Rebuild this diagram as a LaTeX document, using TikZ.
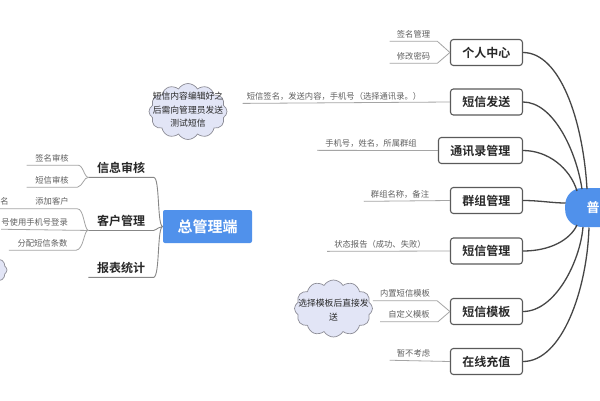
\documentclass[tikz,border=0pt]{standalone}
\usepackage{fontspec}
\setmainfont{Noto Sans CJK SC}[BoldFont={Noto Sans CJK SC Bold}]
\usetikzlibrary{shapes.symbols}
\definecolor{ublue}{RGB}{80,145,235}
\definecolor{boxgray}{RGB}{90,90,90}
\definecolor{conngray}{RGB}{70,70,70}
\definecolor{subgray}{RGB}{165,165,165}
\definecolor{lblgray}{RGB}{95,95,95}
\definecolor{lgray}{RGB}{135,135,135}
\definecolor{cloudfill}{RGB}{226,229,246}
\definecolor{cloudline}{RGB}{140,140,150}
\definecolor{darktext}{RGB}{40,40,40}
\tikzset{
  mbox/.style={draw=boxgray, line width=1.1pt, rounded corners=3pt, fill=white,
    font=\bfseries\fontsize{12}{14}\selectfont, text=darktext, inner xsep=12pt, minimum height=26pt},
  conn/.style={draw=conngray, line width=1.3pt},
  sub/.style={draw=subgray, line width=0.8pt},
  lbl/.style={font=\fontsize{8.3}{10}\selectfont, text=lblgray, inner xsep=7pt, inner ysep=3.2pt},
  lmain/.style={font=\bfseries\fontsize{12}{14}\selectfont, text=darktext, inner xsep=8.5pt, inner ysep=4pt},
  lline/.style={draw=lgray, line width=0.9pt},
  cloudsty/.style={cloud, cloud puffs=12, cloud puff arc=120, draw=cloudline, fill=cloudfill, line width=0.7pt, inner sep=0pt},
  ctext/.style={font=\fontsize{8.8}{13.5}\selectfont, text=darktext, align=center}
}
\begin{document}
\begin{tikzpicture}[x=1pt,y=-1pt]
\useasboundingbox[fill=white] (0,0) rectangle (600,400);

% ---------- right tree ----------
\node[fill=ublue, rounded corners=17pt, minimum width=90pt, minimum height=39pt, anchor=west, inner sep=0pt] (u) at (565,207.5) {};
\node[text=white, font=\bfseries\fontsize{13}{14}\selectfont, inner sep=0pt] (ut) at (593,208) {普};

\node[mbox,anchor=east] (p1) at (523,52.5) {个人中心};
\node[mbox,anchor=east] (p2) at (523,102) {短信发送};
\node[mbox,anchor=east] (p3) at (523,150.5) {通讯录管理};
\node[mbox,anchor=east] (p4) at (523,200.5) {群组管理};
\node[mbox,anchor=east] (p5) at (523,251) {短信管理};
\node[mbox,anchor=east] (p6) at (523,311.5) {短信模板};
\node[mbox,anchor=east] (p7) at (523,361.5) {在线充值};

\coordinate (u1) at (587,189);
\coordinate (u2) at (582,189);
\coordinate (u3) at (577,191);
\coordinate (u4) at (565.5,203);
\coordinate (u5) at (577,225);
\coordinate (u6) at (583,227);
\coordinate (u7) at (589,227.5);

\draw[conn] (p1.east) .. controls (560,52.5) and (583,120) .. (u1);
\draw[conn] (p2.east) .. controls (553,102) and (576,150) .. (u2);
\draw[conn] (p3.east) .. controls (548,150.5) and (570,168) .. (u3);
\draw[conn] (p4.east) .. controls (540,200.5) and (552,203) .. (u4);
\draw[conn] (p5.east) .. controls (550,251) and (570,240) .. (u5);
\draw[conn] (p6.east) .. controls (555,311.5) and (580,262) .. (u6);
\draw[conn] (p7.east) .. controls (562,361.5) and (587,290) .. (u7);

% right labels
\node[lbl] (s11) at (413.5,34) {签名管理};
\node[lbl] (s12) at (413.5,56) {修改密码};
\node[lbl, inner xsep=4pt] (s2) at (334,96) {短信签名，发送内容，手机号（选择通讯录。）};
\node[lbl, inner xsep=8pt] (s3) at (371,143) {手机号，姓名，所属群组};
\node[lbl] (s4) at (400,194) {群组名称，备注};
\node[lbl] (s5) at (380,244) {状态报告（成功、失败）};
\node[lbl] (s61) at (405,293.5) {内置短信模板};
\node[lbl, inner xsep=8pt] (s62) at (409,314.5) {自定义模板};
\node[lbl] (s7) at (413.5,353) {暂不考虑};

\draw[sub] (s11.south west) -- (s11.south east) -- (p1.west);
\draw[sub] (s12.south west) -- (s12.south east) -- (p1.west);
\draw[sub] (s2.south west) -- (p2.west);
\draw[sub] (s3.south west) -- (p3.west);
\draw[sub] (s4.south west) -- (p4.west);
\draw[sub] (s5.south west) -- (p5.west);
\draw[sub] (s61.south west) -- (s61.south east) -- (p6.west);
\draw[sub] (s62.south west) -- (s62.south east) -- (p6.west);
\draw[sub] (s7.south west) -- (p7.west);

% clouds
\node[cloudsty, minimum width=78pt, minimum height=56pt] (c1) at (188,111.5) {};
\node[ctext] (c1t) at (188,110) {短信内容编辑好之\\后需向管理员发送\\测试短信};
\node[cloudsty, minimum width=78pt, minimum height=57pt] (c2) at (333.5,308.5) {};
\node[ctext] (c2t) at (333.5,310) {选择模板后直接发\\送};
\node[cloudsty, minimum width=72pt, minimum height=38pt] (c3) at (-29,270) {};

% ---------- left tree ----------
\node[fill=ublue, rounded corners=2pt, minimum width=89pt, minimum height=33pt, inner sep=0pt,
  text=white, font=\bfseries\fontsize{15}{16}\selectfont] (z) at (207.5,226.5) {总管理端};

\node[lmain] (l1) at (121,167.5) {信息审核};
\node[lmain] (l2) at (121,220.5) {客户管理};
\node[lmain] (l3) at (121,267.5) {报表统计};

\draw[lline] (l1.south west) -- (l1.south east) .. controls (160,177) and (157,226.5) .. (z.west);
\draw[lline] (l2.south west) -- (l2.south east) .. controls (158,229) and (159,226.5) .. (z.west);
\draw[lline] (l3.south west) -- (l3.south east) .. controls (160,276) and (157,226.5) .. (z.west);

\node[lbl, inner xsep=8.5pt] (a1) at (52,158) {签名审核};
\node[lbl, inner xsep=8.5pt] (a2) at (52,180) {短信审核};
\draw[sub] (a1.south west) -- (a1.south east) .. controls (83,164) and (84,177) .. (l1.south west);
\draw[sub] (a2.south west) -- (a2.south east) .. controls (83,186) and (84,177) .. (l1.south west);

\node[lbl, inner xsep=4.5pt] (b0) at (4.6,201.5) {名};
\node[lbl, inner xsep=8.5pt] (b1) at (52,201.5) {添加客户};
\node[lbl, anchor=east, inner xsep=0pt] (b2) at (68,222) {号使用手机号登录};
\node[lbl, inner xsep=8.5pt] (b3) at (42.5,243) {分配短信条数};
\draw[sub] (b0.south west) -- (b1.south east) .. controls (84,208.5) and (84,229) .. (l2.south west);
\draw[sub] (b2.south west) -- (l2.south west);
\draw[sub] (b3.south west) -- (b3.south east) .. controls (84,249.5) and (84,229) .. (l2.south west);
\end{tikzpicture}
\end{document}
